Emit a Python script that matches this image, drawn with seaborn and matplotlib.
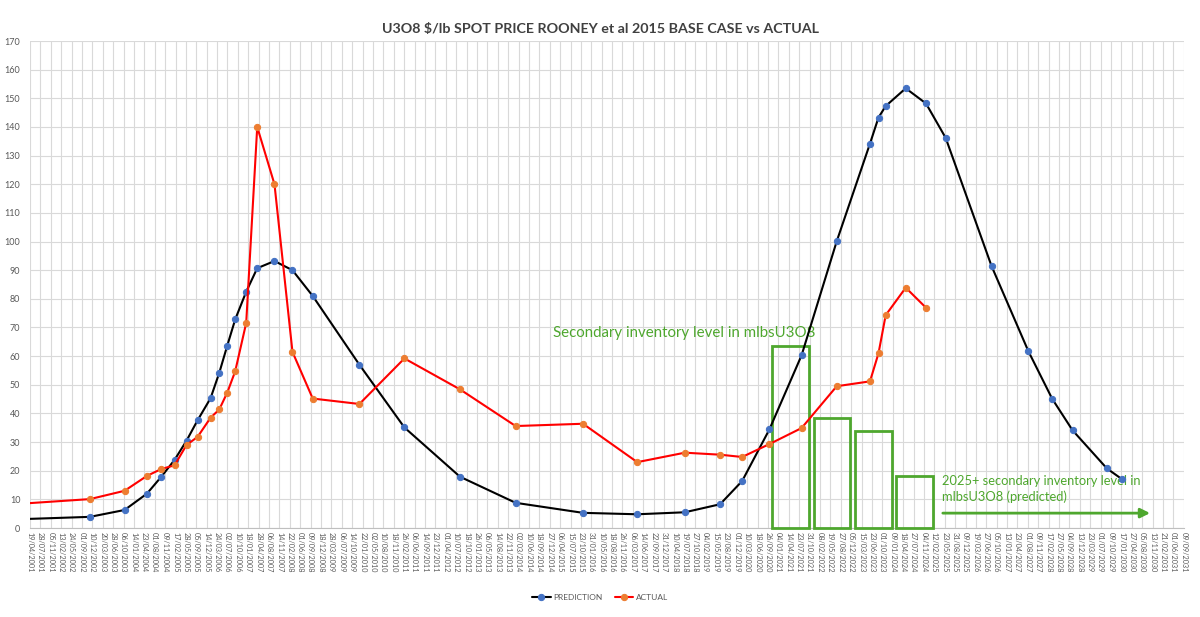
import pandas as pd
import numpy as np
import matplotlib
matplotlib.use("Agg")
import matplotlib.pyplot as plt
import seaborn as sns

# Data
dates = ["2001-04-19", "2002-11-17", "2003-10-16", "2004-05-18", "2004-10-03",
         "2005-02-08", "2005-06-03", "2005-09-17", "2006-01-20", "2006-04-14",
         "2006-06-30", "2006-09-14", "2006-12-29", "2007-04-14", "2007-09-27",
         "2008-03-18", "2008-09-29", "2009-12-22", "2011-02-28", "2012-08-16",
         "2014-02-02", "2015-11-12", "2017-04-17", "2018-07-19", "2019-06-23",
         "2020-01-21", "2020-10-09", "2021-08-15", "2022-07-19", "2023-06-04",
         "2023-08-25", "2023-11-02", "2024-05-13", "2024-11-24", "2025-06-01",
         "2026-08-17", "2027-08-06", "2028-03-22", "2028-10-04", "2029-08-30",
         "2030-01-24"]

prediction = [3.2, 3.9, 6.3, 12.0, 17.9, 23.8, 30.5, 37.6, 45.3, 54.2,
              63.7, 72.8, 82.5, 90.7, 93.2, 90.0, 81.0, 57.0, 35.1, 17.9,
              8.8, 5.3, 4.8, 5.5, 8.3, 16.4, 34.4, 60.3, 100.1, 134.2,
              143.3, 147.3, 153.5, 148.2, 136.2, 91.4, 61.7, 45.1, 34.1, 20.8,
              17.0]

actual = [8.7, 10.1, 13.0, 18.2, 20.6, 21.9, 29.0, 31.8, 38.5, 41.4,
          47.3, 54.7, 71.6, 140.0, 120.0, 61.5, 45.2, 43.3, 59.2, 48.4,
          35.6, 36.4, 23.0, 26.3, 25.6, 24.8, 29.3, 34.9, 49.5, 51.2,
          61.0, 74.3, 83.9, 76.9]

# secondary inventory boxes (mlbs U3O8)
inv_dates = ["2021-05-03", "2022-06-04", "2023-07-06", "2024-08-03"]
inv_levels = [63.5, 38.5, 34.0, 18.0]

pred_df = pd.DataFrame({"date": pd.to_datetime(dates), "price": prediction})
act_df = pd.DataFrame({"date": pd.to_datetime(dates[:len(actual)]), "price": actual})

sns.set_style("white")
plt.rcParams["font.family"] = ["Lato", "DejaVu Sans"]

fig = plt.figure(figsize=(12, 6.17), dpi=100)
ax = fig.add_axes([0.025, 0.1442, 0.9615, 0.7893])

GREEN = "#4ea72e"

# inventory outlines
bars = ax.bar(pd.to_datetime(inv_dates), inv_levels, width=355, fill=False,
              edgecolor=GREEN, linewidth=2, zorder=3)
for b in bars:
    b.set_clip_on(False)

sns.lineplot(data=pred_df, x="date", y="price", ax=ax, color="black",
             linewidth=1.5, marker="o", markersize=4.5,
             markerfacecolor="#4472c4", markeredgecolor="#4472c4",
             markevery=list(range(1, len(prediction))),
             label="PREDICTION", zorder=4)
sns.lineplot(data=act_df, x="date", y="price", ax=ax, color="#ff0000",
             linewidth=1.5, marker="o", markersize=4.5,
             markerfacecolor="#ed7d31", markeredgecolor="#ed7d31",
             markevery=list(range(1, len(actual))),
             label="ACTUAL", zorder=4)

# axes
ticks = pd.date_range("2001-04-19", "2031-09-09", freq="100D")
ax.set_xlim(ticks[0], ticks[-1])
ax.set_xticks(ticks)
ax.set_xticklabels([t.strftime("%d/%m/%Y") for t in ticks], rotation=-90,
                   fontsize=5.2, color="#595959",
                   family=["Liberation Sans Narrow", "Lato"])
ax.set_ylim(0, 170)
ax.set_yticks(np.arange(0, 171, 10))
ax.tick_params(axis="y", labelsize=6.5, labelcolor="#595959", length=0, pad=7)
ax.tick_params(axis="x", length=0, pad=3)
ax.grid(True, color="#d9d9d9", linewidth=0.8)
ax.set_axisbelow(True)
for s in ["top", "right", "left"]:
    ax.spines[s].set_visible(False)
ax.spines["bottom"].set_color("#bfbfbf")
ax.set_xlabel("")
ax.set_ylabel("")

# annotations
ax.text(pd.Timestamp("2015-02-01"), 68, "Secondary inventory level in mlbsU3O8",
        color=GREEN, fontsize=10.8, va="center", ha="left")
ax.text(pd.Timestamp("2025-04-27"), 13.6,
        "2025+ secondary inventory level in\nmlbsU3O8 (predicted)",
        color=GREEN, fontsize=9.3, va="center", ha="left", linespacing=1.25)
ax.annotate("", xy=(pd.Timestamp("2030-11-15"), 5.2),
            xytext=(pd.Timestamp("2025-04-08"), 5.2),
            arrowprops=dict(arrowstyle="-|>", color=GREEN, lw=2,
                            mutation_scale=14))

ax.legend_.remove()
handles, labels = ax.get_legend_handles_labels()
fig.legend(handles, labels, loc="center", bbox_to_anchor=(0.5, 0.031),
           ncol=2, frameon=False, fontsize=6, labelcolor="#595959",
           handlelength=2.2, columnspacing=1.5, handletextpad=0.3)

fig.suptitle("U3O8 $/lb SPOT PRICE ROONEY et al 2015 BASE CASE vs ACTUAL",
             x=0.5, y=0.963, fontsize=10.3, fontweight="bold", color="#404040")

fig.savefig("out.png", dpi=100)
